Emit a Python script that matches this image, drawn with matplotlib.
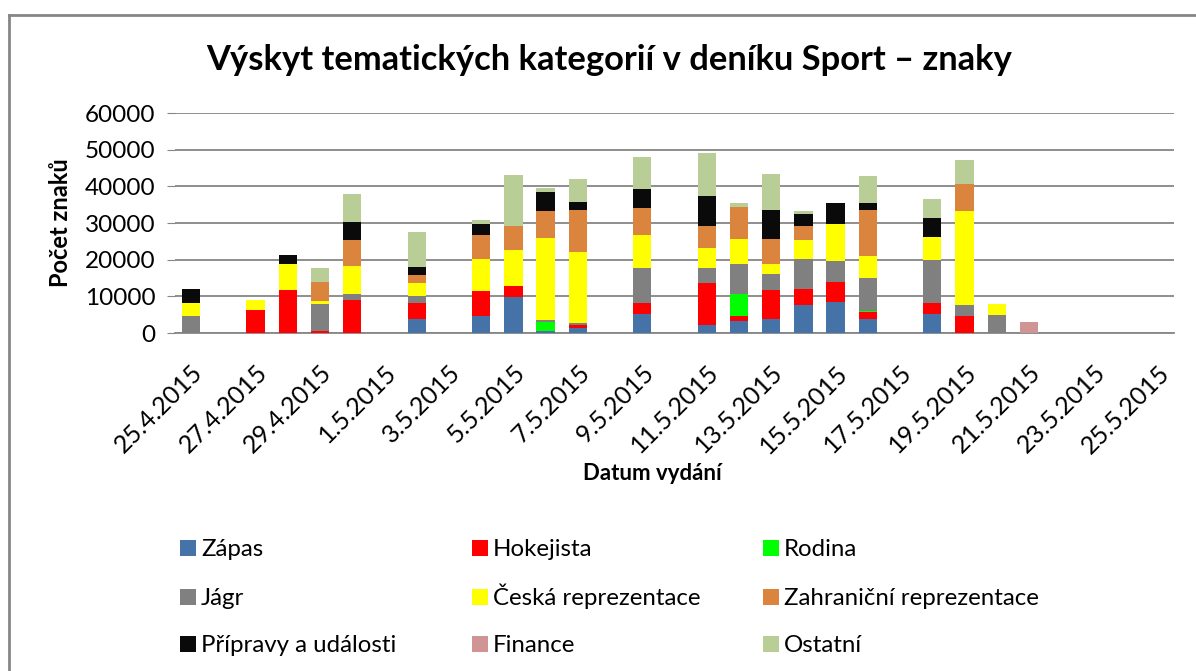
import matplotlib
matplotlib.use("Agg")
import matplotlib.pyplot as plt
import matplotlib.dates as mdates
from matplotlib.patches import Rectangle
from matplotlib.lines import Line2D
import numpy as np
from datetime import datetime

plt.rcParams['font.family'] = ['Lato', 'DejaVu Sans']

# publication dates (day.month, 2015)
dates = ['25.4', '27.4', '28.4', '29.4', '30.4', '2.5', '4.5', '5.5', '6.5', '7.5',
         '9.5', '11.5', '12.5', '13.5', '14.5', '15.5', '16.5', '18.5', '19.5',
         '20.5', '21.5']

zapas      = [0, 0, 0, 0, 0, 3900, 4750, 9850, 550, 1450, 5300, 2100, 3350, 3850, 7550, 8550, 3850, 5100, 0, 0, 0]
hokejista  = [0, 6400, 11850, 550, 8950, 4300, 6750, 3100, 0, 650, 2900, 11550, 1300, 7750, 4500, 5400, 1900, 3200, 4550, 0, 0]
rodina     = [0, 0, 0, 0, 0, 0, 0, 0, 2350, 0, 0, 0, 6100, 0, 0, 0, 200, 0, 0, 0, 0]
jagr       = [4650, 0, 0, 7400, 1650, 2000, 0, 0, 550, 550, 9600, 4100, 7950, 4450, 8000, 5650, 9000, 11500, 3200, 4900, 0]
ceska      = [3650, 2700, 7000, 700, 7700, 3450, 8550, 9750, 22450, 19400, 8800, 5550, 7000, 2800, 5450, 10100, 6000, 6450, 25450, 3100, 0]
zahranicni = [0, 0, 0, 5300, 7050, 2050, 6750, 6400, 7450, 11600, 7500, 5900, 8550, 6750, 3750, 0, 12600, 0, 7550, 0, 0]
pripravy   = [3650, 0, 2550, 0, 4900, 2350, 2800, 0, 5100, 2150, 5300, 8200, 0, 8050, 3300, 5850, 1900, 5200, 0, 0, 0]
finance    = [0, 0, 0, 0, 0, 0, 0, 0, 0, 0, 0, 0, 0, 0, 0, 0, 0, 0, 0, 0, 3000]
ostatni    = [0, 0, 0, 3850, 7600, 9500, 1200, 14100, 1100, 6150, 8550, 11700, 1200, 9650, 700, 0, 7400, 5000, 6550, 0, 0]

series = [
    ('Zápas', zapas, '#4572A7'),
    ('Hokejista', hokejista, '#FF0000'),
    ('Rodina', rodina, '#00FF00'),
    ('Jágr', jagr, '#808080'),
    ('Česká reprezentace', ceska, '#FFFF00'),
    ('Zahraniční reprezentace', zahranicni, '#DB843D'),
    ('Přípravy a události', pripravy, '#0A0A0A'),
    ('Finance', finance, '#D09494'),
    ('Ostatní', ostatni, '#B9CD96'),
]

x = [datetime.strptime(d + '.2015', '%d.%m.%Y') for d in dates]
x = mdates.date2num(x)
start = mdates.date2num(datetime(2015, 4, 25))
end = mdates.date2num(datetime(2015, 5, 25))

W, H = 1196, 671
fig = plt.figure(figsize=(W/100, H/100), dpi=100)
ax = fig.add_axes([175/W, 1-333/H, (1174-175)/W, 220/H])

bottom = np.zeros(len(dates))
for name, vals, col in series:
    ax.bar(x, vals, width=0.57, bottom=bottom, color=col, label=name, zorder=3)
    bottom += np.array(vals)

ax.set_xlim(start - 0.5, end + 0.5)
ax.set_ylim(0, 60000)
ax.set_yticks(range(0, 60001, 10000))
ax.set_yticklabels([str(v) for v in range(0, 60001, 10000)], fontsize=17.5)

ticks = np.arange(start, end + 0.5, 2)
ax.set_xticks(ticks)
ax.set_xticklabels([mdates.num2date(t).strftime('%-d.%-m.%Y') for t in ticks],
                   rotation=45, ha='right', va='top', rotation_mode='anchor', fontsize=18)
ax.tick_params(axis='x', length=0, pad=20)
ax.tick_params(axis='y', length=6, color='#868686', pad=8)

ax.grid(axis='y', color='#868686', linewidth=1.3, zorder=0)
for s in ['top', 'right', 'left']:
    ax.spines[s].set_visible(False)
ax.spines['bottom'].set_color('#868686')
ax.spines['bottom'].set_linewidth(1.3)

fig.text(609/W, 1-60/H, 'Výskyt tematických kategorií v deníku Sport – znaky',
         ha='center', va='center', fontsize=24.8, fontweight='bold')
fig.text(60/W, 1-223/H, 'Počet znaků', rotation=90, ha='center', va='center',
         fontsize=17, fontweight='bold')
fig.text(652/W, 1-474/H, 'Datum vydání', ha='center', va='center',
         fontsize=16, fontweight='bold')

# legend: 3 columns, filled row by row
col_x = [180, 472, 763]
row_y = [548, 597, 644]
for i, (name, vals, col) in enumerate(series):
    cx = col_x[i % 3]
    cy = row_y[i // 3]
    fig.add_artist(Rectangle((cx/W, 1-(cy+8)/H), 16/W, 16/H, facecolor=col,
                             edgecolor='none', transform=fig.transFigure))
    fig.text((cx+21)/W, 1-(cy+8)/H, name, ha='left', va='baseline', fontsize=17.3)

# chart area border
fig.add_artist(Line2D([9/W, 9/W], [0, 1-15/H], color='#868686', linewidth=2))
fig.add_artist(Line2D([9/W, 1], [1-15/H, 1-15/H], color='#868686', linewidth=2))

fig.savefig('out.png', dpi=100)
